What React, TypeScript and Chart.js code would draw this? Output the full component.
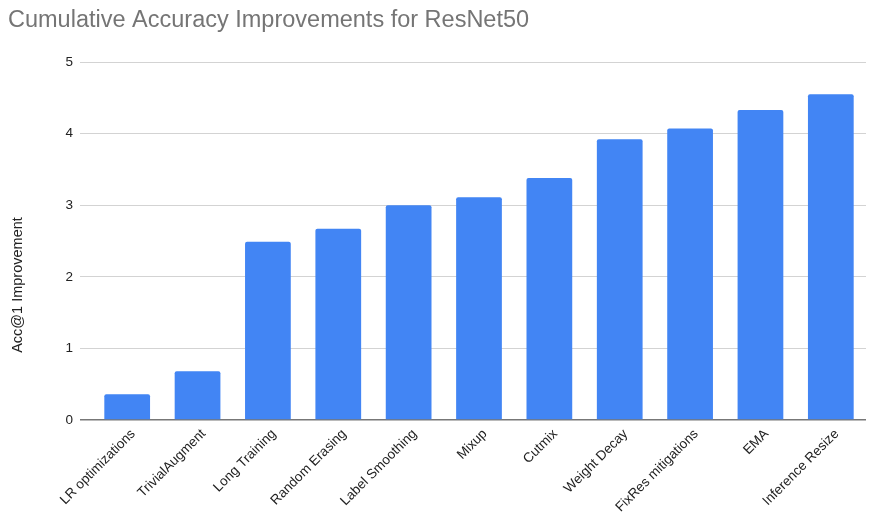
import React, { useEffect, useRef } from "react";
import { Chart, registerables } from "chart.js";

Chart.register(...registerables);

const categories = [
  "LR optimizations",
  "TrivialAugment",
  "Long Training",
  "Random Erasing",
  "Label Smoothing",
  "Mixup",
  "Cutmix",
  "Weight Decay",
  "FixRes mitigations",
  "EMA",
  "Inference Resize",
];

const accuracyGain = [0.36, 0.68, 2.49, 2.67, 3.0, 3.11, 3.38, 3.92, 4.07, 4.33, 4.55];

const yTicks = [0, 1, 2, 3, 4, 5];

const yAxisTitle = "Acc@1 Improvement";

const FONT = "'Liberation Sans', Arial, sans-serif";

// Rotated y-axis caption, placed a little below the plot's vertical centre.
const yCaptionPlugin = {
  id: "yCaption",
  afterDraw(chart: any) {
    const { ctx, chartArea } = chart;
    ctx.save();
    ctx.translate(18, (chartArea.top + chartArea.bottom) / 2 + 44);
    ctx.rotate(-Math.PI / 2);
    ctx.font = `14.5px ${FONT}`;
    ctx.fillStyle = "#222";
    ctx.textAlign = "center";
    ctx.textBaseline = "middle";
    ctx.fillText(yAxisTitle, 0, 0);
    ctx.restore();
  },
};

export default function App() {
  const canvasRef = useRef<HTMLCanvasElement | null>(null);

  useEffect(() => {
    const canvas = canvasRef.current;
    if (!canvas) return;
    const chart = new Chart(canvas, {
      type: "bar",
      data: {
        labels: categories,
        datasets: [
          {
            label: yAxisTitle,
            data: accuracyGain,
            backgroundColor: "#4285F4",
            borderRadius: 2,
            borderSkipped: "bottom",
            categoryPercentage: 1,
            barPercentage: 0.65,
          },
        ],
      },
      options: {
        responsive: false,
        animation: false,
        layout: { padding: { left: 8, right: 5, top: 0, bottom: 0 } },
        plugins: {
          legend: { display: false },
          tooltip: { enabled: false },
          title: {
            display: true,
            text: "Cumulative Accuracy Improvements for ResNet50",
            align: "start",
            color: "#757575",
            font: { family: FONT, size: 23.5, weight: "normal", lineHeight: 1.2 },
            padding: { top: 6, bottom: 27.8 },
          },
        },
        scales: {
          x: {
            grid: { display: false, drawTicks: false },
            border: { display: false },
            ticks: {
              color: "#222",
              font: { family: FONT, size: 13.5 },
              minRotation: 45,
              maxRotation: 45,
              autoSkip: false,
              padding: 6,
              labelOffset: 6,
            },
            afterFit: (scale: any) => {
              scale.height = 97;
            },
          },
          y: {
            min: 0,
            max: 5,
            afterBuildTicks: (scale: any) => {
              scale.ticks = yTicks.map((v) => ({ value: v }));
            },
            grid: {
              color: (ctx: any) => (ctx.tick && ctx.tick.value === 0 ? "#777" : "#d3d3d3"),
              lineWidth: (ctx: any) => (ctx.tick && ctx.tick.value === 0 ? 1.5 : 1),
              tickLength: 12,
            },
            border: { display: false },
            ticks: {
              color: "#222",
              font: { family: FONT, size: 13.5 },
              padding: 7,
            },
            afterFit: (scale: any) => {
              scale.width = 84;
            },
          },
        },
      },
      plugins: [yCaptionPlugin],
    });
    return () => chart.destroy();
  }, []);

  return (
    <div style={{ position: "absolute", left: 0, top: 0, width: 871, height: 517, background: "#fff" }}>
      <canvas ref={canvasRef} width={871} height={517} />
    </div>
  );
}
